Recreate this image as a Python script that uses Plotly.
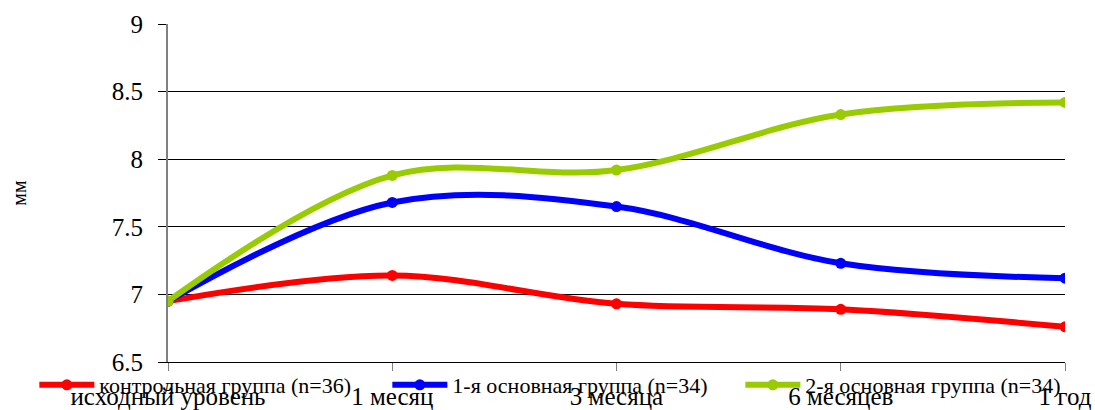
import plotly.graph_objects as go

categories = ["исходный уровень", "1 месяц", "3 месяца", "6 месяцев", "1 год"]
control = [6.95, 7.14, 6.93, 6.89, 6.76]
main1 = [6.95, 7.68, 7.65, 7.23, 7.12]
main2 = [6.95, 7.88, 7.92, 8.33, 8.42]

series = [
    ("контрольная группа (n=36)", control, "#FF0000"),
    ("1-я основная группа (n=34)", main1, "#0000FF"),
    ("2-я основная группа (n=34)", main2, "#99CC00"),
]

fig = go.Figure()
for name, vals, color in series:
    fig.add_trace(go.Scatter(
        x=categories, y=vals, name=name, mode="lines+markers",
        line=dict(color=color, width=6, shape="spline", smoothing=1.0),
        marker=dict(color=color, size=11),
    ))

font = "Liberation Serif, Times New Roman, serif"
fig.update_layout(
    width=1095, height=410,
    margin=dict(l=168, r=30, t=24, b=48, autoexpand=False),
    paper_bgcolor="white", plot_bgcolor="white",
    font=dict(family=font, color="black"),
    showlegend=True,
    legend=dict(orientation="h", x=-0.149, xanchor="left", y=-0.068, yanchor="middle",
                font=dict(size=22, family=font), bgcolor="rgba(0,0,0,0)",
                tracegroupgap=0, itemwidth=55, entrywidth=283),
    xaxis=dict(type="category", range=[0, 4], showgrid=False, showline=True,
               linecolor="black", linewidth=1, ticks="outside", ticklen=8,
               tickcolor="#808080", tickfont=dict(size=25, family=font),
               ticklabelstandoff=4, zeroline=False),
    yaxis=dict(range=[6.5, 9], dtick=0.5, showgrid=True, gridcolor="black",
               gridwidth=1, showline=True, linecolor="#808080", linewidth=2,
               ticks="outside", ticklen=8, tickcolor="black",
               tickfont=dict(size=25, family=font), ticklabelstandoff=10,
               zeroline=False,
               title=dict(text="мм", font=dict(size=20, family=font), standoff=80)),
)

fig.write_html("out.html")
